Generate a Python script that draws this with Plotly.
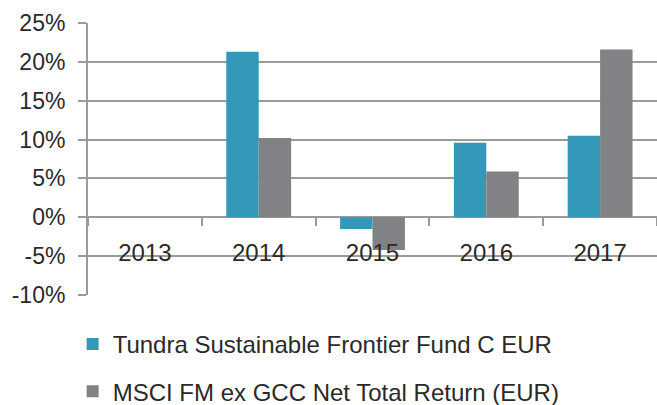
import plotly.graph_objects as go

years = ["2013", "2014", "2015", "2016", "2017"]
fund = [None, 21.3, -1.5, 9.6, 10.5]
msci = [None, 10.2, -4.2, 5.9, 21.6]
fund_name = "Tundra Sustainable Frontier Fund C EUR"
msci_name = "MSCI FM ex GCC Net Total Return (EUR)"
y_ticks = [-10, -5, 0, 5, 10, 15, 20, 25]

TEAL = "#3499b8"
GREY = "#808285"
GRID = "#9a9a9a"
TXT = "#2b2a29"
FONT = "Liberation Sans"

fig = go.Figure()
fig.add_trace(go.Bar(x=years, y=fund, name=fund_name, marker_color=TEAL,
                     marker_line_width=0, legendgroup="a"))
fig.add_trace(go.Bar(x=years, y=msci, name=msci_name, marker_color=GREY,
                     marker_line_width=0, legendgroup="b"))

fig.update_layout(
    width=657, height=405,
    margin=dict(l=88, r=0, t=23, b=110, autoexpand=False),
    plot_bgcolor="white", paper_bgcolor="white",
    barmode="group", bargap=0.43, bargroupgap=0,
    font=dict(family=FONT, color=TXT, size=22),
    showlegend=True,
    legend=dict(x=-0.027, xanchor="left", y=-0.099, yanchor="top",
                orientation="v", font=dict(size=24, color=TXT),
                tracegroupgap=13, bgcolor="rgba(0,0,0,0)"),
)
fig.update_yaxes(
    range=[-10, 25], tickvals=y_ticks,
    ticktext=[f"{v}%" for v in y_ticks],
    showgrid=True, gridcolor=GRID, gridwidth=2,
    zeroline=True, zerolinecolor=GRID, zerolinewidth=2,
    showline=True, linecolor=GRID, linewidth=2,
    ticks="outside", ticklen=8, tickcolor=GRID, tickwidth=2,
    ticklabelstandoff=8,
    tickfont=dict(size=23, color=TXT),
)
fig.update_xaxes(
    type="category", anchor="free", position=10/35,
    showline=False, showgrid=False,
    ticks="outside", tickson="boundaries", ticklen=8, tickcolor=GRID, tickwidth=2,
    ticklabelstandoff=19,
    tickfont=dict(size=24, color=TXT),
)

fig.write_html("out.html")
